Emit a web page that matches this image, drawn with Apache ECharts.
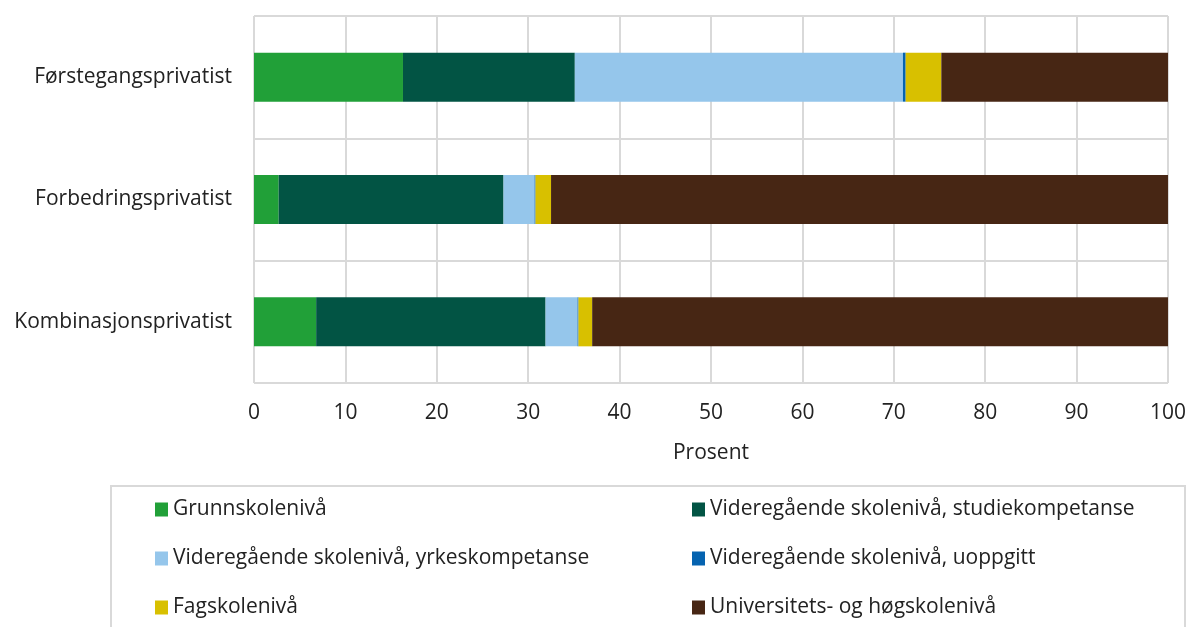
<!DOCTYPE html>
<html>
<head>
    <meta charset="utf-8">
    <title>chart</title>
    <script src="https://cdn.jsdelivr.net/npm/echarts@6/dist/echarts.min.js"></script>
    <style>
        html, body { margin: 0; padding: 0; background: #fff; }
        #main { width: 1189px; height: 627px; }
    </style>
</head>
<body>
<div id="main"></div>
<script>
    // kategorier (ovenfra og ned)
    var categories = ['Førstegangsprivatist', 'Forbedringsprivatist', 'Kombinasjonsprivatist'];

    var seriesNames = [
        'Grunnskolenivå',
        'Videregående skolenivå, studiekompetanse',
        'Videregående skolenivå, yrkeskompetanse',
        'Videregående skolenivå, uoppgitt',
        'Fagskolenivå',
        'Universitets- og høgskolenivå'
    ];
    var colors = ['#21a038', '#025444', '#95c6eb', '#0563b0', '#d8c000', '#472614'];

    // prosent, samme rekkefølge som categories
    var grunnskole = [16.3, 2.7, 6.8];
    var vgsStudie = [18.8, 24.6, 25.1];
    var vgsYrke = [35.9, 3.4, 3.5];
    var vgsUoppgitt = [0.3, 0.1, 0.1];
    var fagskole = [3.9, 1.7, 1.5];
    var universitet = [24.8, 67.5, 63.0];

    var xTicks = [0, 10, 20, 30, 40, 50, 60, 70, 80, 90, 100];

    var values = [grunnskole, vgsStudie, vgsYrke, vgsUoppgitt, fagskole, universitet];
    var font = '"Open Sans", sans-serif';
    var textColor = '#222';
    var fs = 21;

    // legend i to kolonner, tre rader
    var legendPos = [[155, 0], [692, 0], [155, 1], [692, 1], [155, 2], [692, 2]];
    var legends = seriesNames.map(function (name, i) {
        return {
            orient: 'horizontal',
            left: legendPos[i][0],
            top: 499 + legendPos[i][1] * 49,
            padding: 0,
            itemWidth: 13, itemHeight: 14,
            selectedMode: false, icon: 'rect',
            textStyle: { fontFamily: font, fontSize: fs, color: textColor },
            data: [name]
        };
    });

    var chart = echarts.init(document.getElementById('main'));
    chart.setOption({
        animation: false,
        grid: { left: 254, right: 21, top: 16, bottom: 244 },
        xAxis: {
            type: 'value',
            min: xTicks[0],
            max: xTicks[xTicks.length - 1],
            interval: 10,
            name: 'Prosent',
            nameLocation: 'middle',
            nameGap: 60,
            nameTextStyle: { fontFamily: font, fontSize: fs, color: textColor },
            axisLine: { show: false },
            axisTick: { show: false },
            axisLabel: { fontFamily: font, fontSize: fs, color: textColor, margin: 20 },
            splitLine: { lineStyle: { color: '#d9d9d9', width: 2 } }
        },
        yAxis: {
            type: 'category',
            inverse: true,
            data: categories,
            axisLine: { show: false },
            axisTick: { show: false },
            axisLabel: { fontFamily: font, fontSize: fs, color: textColor, margin: 22 },
            splitLine: { show: true, lineStyle: { color: '#d9d9d9', width: 2 } }
        },
        legend: legends,
        graphic: [{
            type: 'rect',
            shape: { x: 111, y: 486, width: 1074, height: 160 },
            style: { fill: 'none', stroke: '#d9d9d9', lineWidth: 2 },
            silent: true
        }],
        series: seriesNames.map(function (name, i) {
            return {
                name: name,
                type: 'bar',
                stack: 'total',
                barWidth: 49,
                itemStyle: { color: colors[i] },
                data: values[i]
            };
        })
    });
</script>
</body>
</html>
